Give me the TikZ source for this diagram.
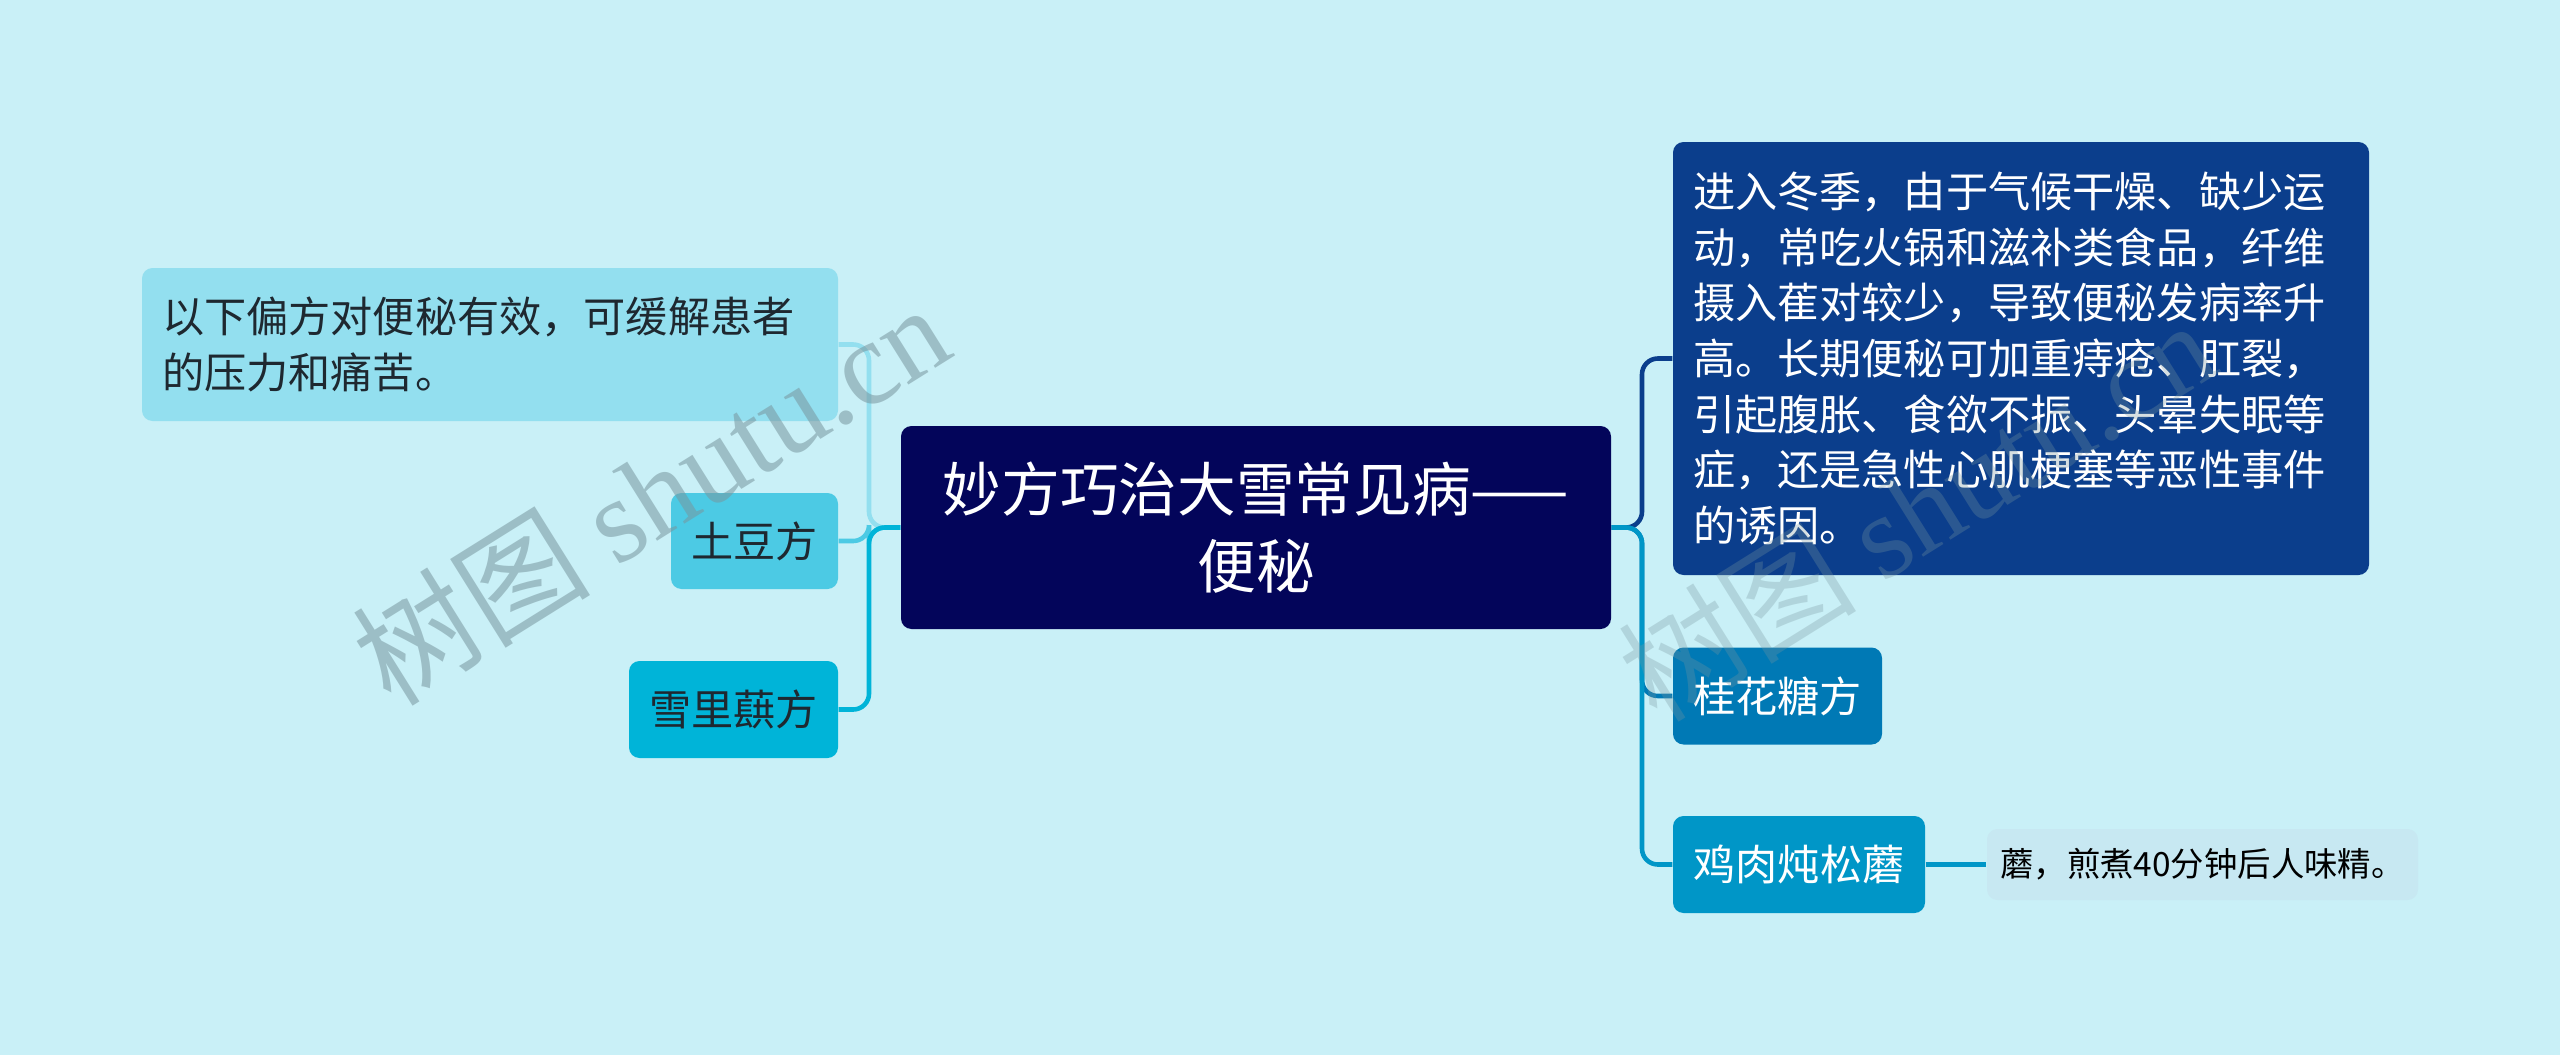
\documentclass[tikz,border=0pt]{standalone}
\usepackage{fontspec}
\setmainfont{Noto Sans CJK SC}
\newfontfamily\wmserif{Liberation Serif}
\usetikzlibrary{positioning}

\definecolor{bgcol}{RGB}{201,240,247}
\definecolor{rootcol}{RGB}{3,5,90}
\definecolor{acol}{RGB}{147,223,239}
\definecolor{bcol}{RGB}{76,202,228}
\definecolor{ccol}{RGB}{0,180,216}
\definecolor{dcol}{RGB}{11,62,140}
\definecolor{ecol}{RGB}{0,121,181}
\definecolor{fcol}{RGB}{0,150,199}
\definecolor{gcol}{RGB}{199,232,242}
\definecolor{darktext}{RGB}{30,40,48}
\definecolor{wmcol}{RGB}{120,150,158}

\begin{document}
\begin{tikzpicture}[
  box/.style={rectangle, rounded corners=3pt, inner sep=0pt},
  topic/.style={box, fill=rootcol, text=white, align=center, font=\fontsize{16.7}{22}\selectfont},
  leftsub/.style={box, text=darktext, font=\fontsize{12}{15.8}\selectfont},
  rightsub/.style={box, text=white, font=\fontsize{12}{15.8}\selectfont},
  note/.style={box, fill=gcol, text=black, font=\fontsize{9.5}{12}\selectfont},
  link/.style={line width=1.3pt, rounded corners=4.5pt},
  wmark/.style={text=wmcol, rotate=32, font=\fontsize{34}{34}\selectfont}
]
 \fill[bgcol] (0,0) rectangle (25.6,10.55);
 \useasboundingbox (0,0) rectangle (25.6,10.55);

 \node (root) [topic, minimum width=7.10cm, minimum height=2.03cm] at (12.56,5.275) {妙方巧治大雪常见病——\\便秘};

 % left side
 \node (intro) [leftsub, fill=acol, minimum width=6.96cm, minimum height=1.53cm, text width=6.56cm, align=left] at (4.90,7.105) {以下偏方对便秘有效，可缓解患者\\的压力和痛苦。};
 \node (tudou) [leftsub, fill=bcol, minimum width=1.67cm, minimum height=0.96cm] at (7.545,5.14) {土豆方};
 \node (xuelihong) [leftsub, fill=ccol, minimum width=2.09cm, minimum height=0.97cm] at (7.335,3.455) {雪里蕻方};

 % right side
 \node (reason) [rightsub, fill=dcol, minimum width=6.96cm, minimum height=4.33cm, text width=6.56cm, align=left] at (20.21,6.965) {进入冬季，由于气候干燥、缺少运\\动，常吃火锅和滋补类食品，纤维\\摄入萑对较少，导致便秘发病率升\\高。长期便秘可加重痔疮、肛裂，\\引起腹胀、食欲不振、头晕失眠等\\症，还是急性心肌梗塞等恶性事件\\的诱因。};
 \node (guihua) [rightsub, fill=ecol, minimum width=2.09cm, minimum height=0.97cm] at (17.775,3.59) {桂花糖方};
 \node (jirou) [rightsub, fill=fcol, minimum width=2.52cm, minimum height=0.97cm] at (17.99,1.905) {鸡肉炖松蘑};
 \node (jianzhu) [note, minimum width=4.31cm, minimum height=0.71cm] at (22.025,1.905) {蘑，煎煮40分钟后人味精。};

 \coordinate (ltrunk) at (8.69,5.275);
 \coordinate (rtrunk) at (16.42,5.275);

 \draw[link, acol] (root.west) -- (ltrunk) |- (intro.east);
 \draw[link, bcol] (root.west) -- (ltrunk) |- (tudou.east);
 \draw[link, ccol] (root.west) -- (ltrunk) |- (xuelihong.east);

 \draw[link, dcol] (root.east) -- (rtrunk) |- (reason.west);
 \draw[link, ecol] (root.east) -- (rtrunk) |- (guihua.west);
 \draw[link, fcol] (root.east) -- (rtrunk) |- (jirou.west);
 \draw[link, fcol] (jirou.east) -- (jianzhu.west);

 % watermarks
 \node (wmleft) [wmark, opacity=0.55] at (6.50,5.62) {树图 {\wmserif shutu.cn}};
 \node (wmright) [wmark, opacity=0.3] at (19.16,5.46) {树图 {\wmserif shutu.cn}};
\end{tikzpicture}
\end{document}
